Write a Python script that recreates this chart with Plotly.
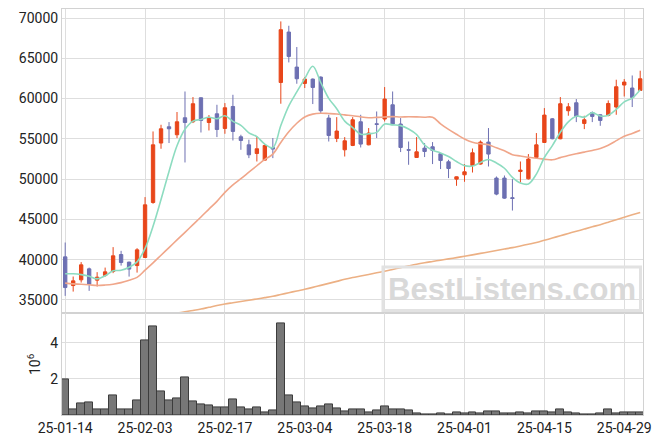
import plotly.graph_objects as go
from plotly.subplots import make_subplots

dates = [
    "2025-01-14", "2025-01-15", "2025-01-16", "2025-01-17", "2025-01-20", "2025-01-21", "2025-01-22",
    "2025-01-23", "2025-01-24", "2025-01-31", "2025-02-03", "2025-02-04", "2025-02-05", "2025-02-06",
    "2025-02-07", "2025-02-10", "2025-02-11", "2025-02-12", "2025-02-13", "2025-02-14", "2025-02-17",
    "2025-02-18", "2025-02-19", "2025-02-20", "2025-02-21", "2025-02-24", "2025-02-25", "2025-02-26",
    "2025-02-27", "2025-02-28", "2025-03-04", "2025-03-05", "2025-03-06", "2025-03-07", "2025-03-10",
    "2025-03-11", "2025-03-12", "2025-03-13", "2025-03-14", "2025-03-17", "2025-03-18", "2025-03-19",
    "2025-03-20", "2025-03-21", "2025-03-24", "2025-03-25", "2025-03-26", "2025-03-27", "2025-03-28",
    "2025-03-31", "2025-04-01", "2025-04-02", "2025-04-03", "2025-04-04", "2025-04-07", "2025-04-08",
    "2025-04-09", "2025-04-10", "2025-04-11", "2025-04-14", "2025-04-15", "2025-04-16", "2025-04-17",
    "2025-04-18", "2025-04-21", "2025-04-22", "2025-04-23", "2025-04-24", "2025-04-25", "2025-04-28",
    "2025-04-29", "2025-04-30", "2025-05-02",
]

open_ = [40350, 36790, 37500, 38860, 37460, 38030, 38530, 40640, 39700, 39270,
         40270, 47100, 54480, 56500, 55510, 57620, 57120, 60100, 57030, 58110,
         56290, 59020, 55260, 54260, 53180, 52360, 53930, 62000, 68260, 63910,
         61880, 62420, 62670, 57580, 55050, 53640, 54180, 57120, 54260, 56870,
         57460, 59230, 56840, 53650, 52690, 53850, 54020, 53150, 52150, 50000,
         50540, 51690, 51870, 54600, 50130, 50130, 47700, 50950, 50040, 52690,
         54550, 57490, 55010, 58490, 59480, 56910, 58270, 57990, 57900, 58950,
         61680, 61310, 61010]
high = [42130, 37910, 39700, 39020, 38450, 39020, 41560, 41100, 39750, 41430,
        47770, 55920, 56750, 57080, 58330, 60880, 60190, 60150, 57950, 59230,
        59440, 60470, 55510, 54900, 55300, 54300, 55100, 69580, 69040, 66400,
        62670, 62500, 62750, 57990, 57700, 55220, 57700, 57990, 56340, 58400,
        61430, 60880, 57580, 54670, 55220, 54480, 54600, 53200, 52400, 50330,
        51870, 53800, 54800, 56340, 50330, 50450, 50000, 52190, 53110, 55720,
        58820, 57580, 60190, 59440, 59940, 57870, 58400, 58050, 59770, 62340,
        62420, 62870, 63460]
low = [35510, 36040, 37160, 36130, 36670, 37900, 38330, 39270, 37900, 38400,
       40200, 46940, 53770, 54480, 55100, 52070, 56960, 55790, 56040, 55220,
       55630, 54800, 53640, 52610, 52190, 52300, 52610, 59360, 64490, 61840,
       61310, 59320, 58200, 54670, 54600, 52810, 54100, 53930, 54200, 55100,
       57160, 56700, 53360, 51780, 52650, 52740, 51870, 51250, 50130, 49170,
       49670, 50820, 51800, 51570, 48000, 47560, 46100, 49580, 49950, 52600,
       54500, 54950, 54950, 57870, 57080, 56210, 57080, 56620, 57800, 57990,
       60260, 58950, 60950]
close = [36540, 37370, 39360, 36960, 37830, 38490, 40480, 39650, 38830, 41220,
         46810, 54260, 56250, 56250, 57120, 57030, 59360, 57280, 57650, 56160,
         58860, 55920, 54800, 53020, 53770, 54180, 53730, 68550, 65230, 62460,
         62420, 61380, 58490, 55420, 55970, 54760, 57370, 54350, 55720, 56800,
         59940, 56840, 53930, 53600, 53390, 53430, 53560, 52310, 51320, 50290,
         50910, 53270, 54600, 53110, 48140, 47640, 47600, 51120, 52490, 54260,
         57950, 55010, 59360, 58980, 57780, 57370, 57780, 57280, 59390, 61470,
         62050, 60140, 62460]

volume = [2000000, 330000, 670000, 720000, 330000, 330000, 1070000, 330000, 330000, 830000,
          4130000, 4940000, 1330000, 830000, 940000, 2110000, 780000, 610000, 560000, 440000,
          440000, 890000, 440000, 330000, 440000, 170000, 280000, 5110000, 1110000, 720000,
          500000, 390000, 500000, 600000, 370000, 200000, 320000, 320000, 150000, 260000,
          490000, 320000, 320000, 260000, 90000, 40000, 40000, 90000, 40000, 150000,
          90000, 150000, 90000, 200000, 200000, 90000, 90000, 150000, 90000, 200000,
          200000, 150000, 320000, 150000, 90000, 40000, 40000, 90000, 320000, 90000,
          150000, 150000, 150000]

ma5 = [38250, 38250, 38150, 37950, 37612, 38002, 38624, 38682, 39056, 39734,
       41398, 44154, 47474, 50958, 54138, 56182, 57202, 57408, 57688, 57496,
       57862, 57174, 56678, 55752, 55274, 54338, 53900, 56650, 59092, 60830,
       62478, 64008, 61996, 60034, 58736, 57204, 56402, 55574, 55634, 55800,
       56836, 56730, 56646, 56222, 55540, 54238, 53582, 53258, 52802, 52182,
       51678, 51620, 52078, 52436, 52006, 51352, 50218, 49522, 49398, 50622,
       52684, 54166, 55814, 57112, 57816, 57700, 58254, 57838, 57920, 58658,
       59594, 60066, 61102]

ma20 = [37090, 37000, 36950, 36880, 36800, 36850, 36960, 37150, 37450, 37800,
        38700, 39600, 40550, 41500, 42450, 43400, 44350, 45300, 46280, 47245,
        48361, 49289, 50061, 50864, 51661, 52445, 53108, 54553, 55873, 56935,
        57716, 58072, 58184, 58142, 58085, 57971, 57872, 57725, 57629, 57661,
        57715, 57761, 57717, 57746, 57727, 57690, 57681, 56869, 56174, 55565,
        54990, 54584, 54390, 54274, 53883, 53527, 53038, 52877, 52715, 52588,
        52489, 52397, 52669, 52938, 53157, 53354, 53565, 53814, 54217, 54776,
        55333, 55677, 56070]

ma60 = [None] * 13 + [
    33200, 33370, 33530, 33700, 33870, 34090, 34310,
    34500, 34660, 34820, 34970, 35130, 35290, 35460, 35680, 35900, 36120,
    36330, 36560, 36810, 37060, 37310, 37560, 37780, 37980, 38170, 38370,
    38570, 38790, 39010, 39230, 39440, 39620, 39780, 39940, 40100, 40260,
    40425, 40600, 40780, 40960, 41140, 41320, 41500, 41710, 41920, 42130,
    42410, 42690, 42970, 43250, 43530, 43800, 44080, 44350, 44650, 44960,
    45260, 45570, 45870]

tick_dates = dates[::10]
tick_labels = [d[2:] for d in tick_dates]
price_ticks = [35000, 40000, 45000, 50000, 55000, 60000, 65000, 70000]
vol_ticks = [2000000, 4000000]
vol_tick_labels = ["2", "4"]

UP = "#e8461a"
DOWN = "#6d70b2"
FONT = "Roboto"
TXT = "#222222"

fig = make_subplots(rows=2, cols=1, shared_xaxes=True, vertical_spacing=0,
                    row_heights=[0.7498, 0.2502])

fig.add_trace(go.Candlestick(
    x=dates, open=open_, high=high, low=low, close=close,
    increasing=dict(line=dict(color=UP, width=1), fillcolor=UP),
    decreasing=dict(line=dict(color=DOWN, width=1), fillcolor=DOWN),
    whiskerwidth=0, showlegend=False, hoverinfo="skip"), row=1, col=1)

fig.add_trace(go.Scatter(x=dates, y=ma60, mode="lines", line=dict(color="#ecb084", width=1.6, shape="spline"),
                         showlegend=False, hoverinfo="skip"), row=1, col=1)
fig.add_trace(go.Scatter(x=dates, y=ma20, mode="lines", line=dict(color="#f0a68a", width=1.6, shape="spline"),
                         showlegend=False, hoverinfo="skip"), row=1, col=1)
fig.add_trace(go.Scatter(x=dates, y=ma5, mode="lines", line=dict(color="#8ddcc0", width=1.6, shape="spline"),
                         showlegend=False, hoverinfo="skip"), row=1, col=1)

fig.add_trace(go.Bar(x=dates, y=volume, marker=dict(color="#777777", line=dict(color="#3c3c3c", width=1)),
                     showlegend=False, hoverinfo="skip"), row=2, col=1)

grid = "#dedede"
frame = "#d2d2d2"
xcommon = dict(type="category", range=[-0.4, 72.35], tickvals=tick_dates, ticktext=tick_labels,
               showgrid=True, gridcolor=grid, gridwidth=1, showline=True, linecolor=frame, mirror=True,
               ticks="", zeroline=False, automargin=False, rangeslider=dict(visible=False),
               tickfont=dict(family=FONT, size=14, color=TXT))
fig.update_xaxes(**xcommon)
fig.update_xaxes(showticklabels=False, row=1, col=1)

fig.update_yaxes(range=[33330, 71120], tickvals=price_ticks, tickformat="d",
                 showgrid=True, gridcolor=grid, showline=True, linecolor=frame, mirror=True,
                 zeroline=False, ticks="", automargin=False, tickfont=dict(family=FONT, size=14, color=TXT),
                 row=1, col=1)
fig.update_yaxes(range=[0, 5640000], tickvals=vol_ticks, ticktext=vol_tick_labels,
                 showgrid=True, gridcolor=grid, showline=True, linecolor=frame, mirror=True,
                 zeroline=False, ticks="", automargin=False, tickfont=dict(family=FONT, size=14, color=TXT),
                 row=2, col=1)

# exponent label of the volume axis
fig.add_annotation(xref="paper", yref="paper", x=-0.048, y=0.1256, text="10<sup>6</sup>", textangle=-90,
                   showarrow=False, font=dict(family=FONT, size=14, color=TXT),
                   xanchor="center", yanchor="middle")

fig.add_shape(type="rect", xref="paper", yref="paper", x0=0.5525, x1=0.9957, y0=0.2574, y1=0.3645,
              line=dict(color="#e2e2e2", width=3), fillcolor="rgba(0,0,0,0)", layer="above")
fig.add_annotation(xref="paper", yref="paper", x=0.7737, y=0.3103, text="<b>BestListens.com</b>",
                   showarrow=False, font=dict(family="Liberation Sans", size=31, color="#d9d9d9"),
                   xanchor="center", yanchor="middle")

# the page body adds an 8px offset; margins compensate so the plot area lands where the reference has it
fig.update_layout(
    width=647, height=428,
    margin=dict(l=54, r=12, t=1, b=21),
    paper_bgcolor="white", plot_bgcolor="white",
    bargap=0, boxgap=0.4, showlegend=False,
)

fig.write_html("out.html")
